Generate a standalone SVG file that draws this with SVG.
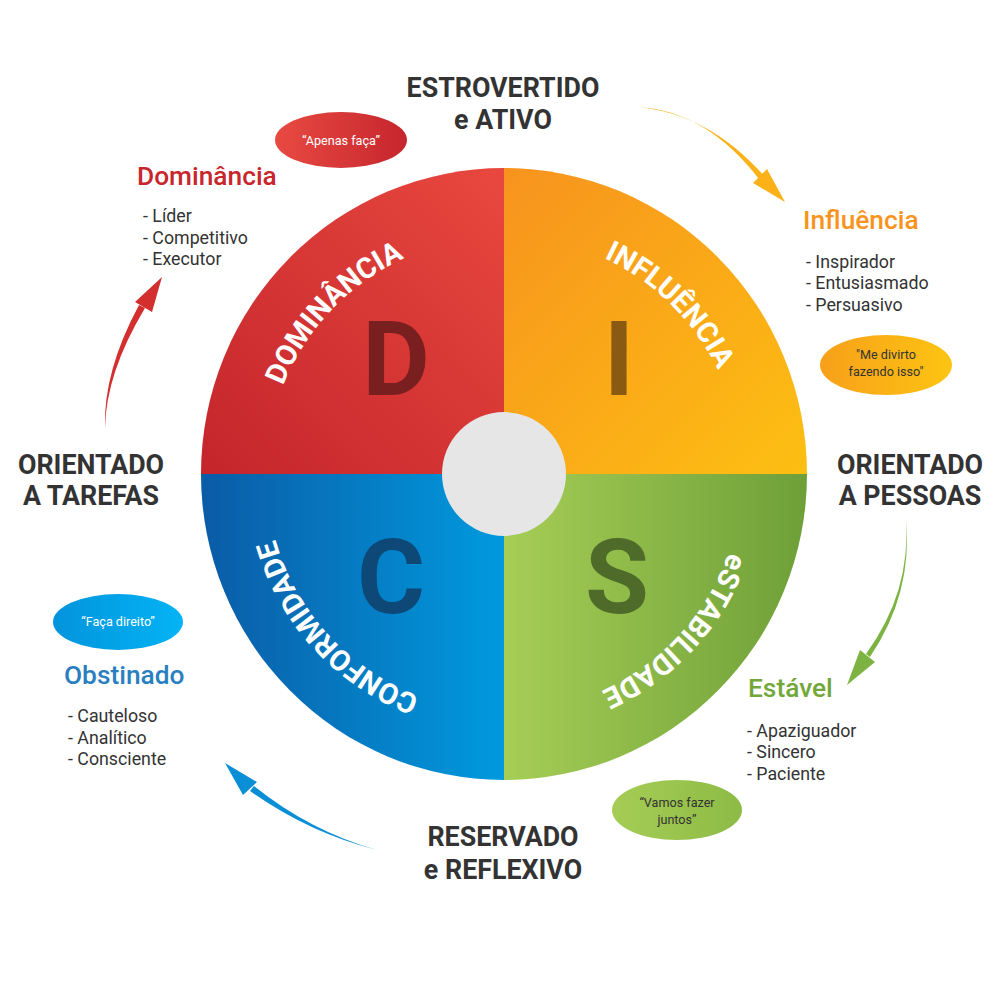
<svg xmlns="http://www.w3.org/2000/svg" xmlns:xlink="http://www.w3.org/1999/xlink" width="1000" height="1000" viewBox="0 0 1000 1000">
<defs>
<linearGradient id="gRed" x1="0" y1="1" x2="1" y2="0"><stop offset="0" stop-color="#c4252b"/><stop offset="1" stop-color="#e8483e"/></linearGradient>
<linearGradient id="gOrange" x1="0" y1="0" x2="1" y2="1"><stop offset="0" stop-color="#f7931e"/><stop offset="1" stop-color="#fdbf12"/></linearGradient>
<linearGradient id="gGreen" x1="0" y1="0" x2="1" y2="0"><stop offset="0" stop-color="#a6ce56"/><stop offset="1" stop-color="#6e9f38"/></linearGradient>
<linearGradient id="gBlue" x1="0" y1="0" x2="1" y2="0"><stop offset="0" stop-color="#0b5ba6"/><stop offset="1" stop-color="#009ade"/></linearGradient>
<linearGradient id="bRed" x1="0" y1="0" x2="1" y2="0"><stop offset="0" stop-color="#e84a42"/><stop offset="1" stop-color="#c6262d"/></linearGradient>
<linearGradient id="bOrange" x1="0" y1="0" x2="1" y2="0"><stop offset="0" stop-color="#f7a01a"/><stop offset="1" stop-color="#fdc412"/></linearGradient>
<linearGradient id="bGreen" x1="0" y1="0" x2="1" y2="0"><stop offset="0" stop-color="#a5cd55"/><stop offset="1" stop-color="#8dbb46"/></linearGradient>
<linearGradient id="bBlue" x1="0" y1="0" x2="1" y2="0"><stop offset="0" stop-color="#0294dc"/><stop offset="1" stop-color="#04b3f5"/></linearGradient>
<path id="arc" d="M280.4,392.6 A238,238 0 0 1 727.6,392.6"/>
<style>
text{font-family:Roboto,"Liberation Sans",sans-serif;}
.head{font-size:26.8px;font-weight:700;fill:#333;text-anchor:middle;}
.title{font-size:26.3px;font-weight:500;}
.item{font-size:17.8px;fill:#333;}
.arcT{font-size:29px;font-weight:700;fill:#fff;}
.big{font-size:104px;font-weight:700;text-anchor:middle;}
.bub{font-size:12.6px;text-anchor:middle;}
</style>
</defs>

<g id="wheel">
<path d="M504,474 L201,474 A303,306 0 0 1 504,168 Z" fill="url(#gRed)"/>
<path d="M504,474 L504,168 A303,306 0 0 1 807,474 Z" fill="url(#gOrange)"/>
<path d="M504,474 L807,474 A303,306 0 0 1 504,780 Z" fill="url(#gGreen)"/>
<path d="M504,474 L504,780 A303,306 0 0 1 201,474 Z" fill="url(#gBlue)"/>
<circle cx="504" cy="474" r="62" fill="#e6e6e6"/>
</g>

<g id="node-d">
<text class="big" x="396" y="395" fill="#7a1f1f">D</text>
<g transform="rotate(-46.5 504 474)"><text class="arcT"><textPath xlink:href="#arc" href="#arc" startOffset="50%" text-anchor="middle">DOMINÂNCIA</textPath></text></g>
</g>
<g id="node-i">
<text class="big" x="619" y="395" fill="#8a5a12">I</text>
<g transform="rotate(44.5 504 474)"><text class="arcT"><textPath xlink:href="#arc" href="#arc" startOffset="50%" text-anchor="middle">INFLUÊNCIA</textPath></text></g>
</g>
<g id="node-s">
<text class="big" x="617" y="613" fill="#4f6b2a">S</text>
<g transform="rotate(132.5 504 474)"><text class="arcT"><textPath xlink:href="#arc" href="#arc" startOffset="50%" text-anchor="middle">eSTABILIDADE</textPath></text></g>
</g>
<g id="node-c">
<text class="big" x="391" y="613" fill="#0d4877">C</text>
<g transform="rotate(227.4 504 474)"><text class="arcT"><textPath xlink:href="#arc" href="#arc" startOffset="50%" text-anchor="middle">CONFORMIDADE</textPath></text></g>
</g>

<g id="axis-labels">
<text class="head" x="503" y="97">ESTROVERTIDO</text>
<text class="head" x="503" y="129">e ATIVO</text>
<text class="head" x="91" y="474">ORIENTADO</text>
<text class="head" x="91" y="505">A TAREFAS</text>
<text class="head" x="910" y="474">ORIENTADO</text>
<text class="head" x="910" y="505">A PESSOAS</text>
<text class="head" x="503" y="846">RESERVADO</text>
<text class="head" x="503" y="879">e REFLEXIVO</text>
</g>

<g id="desc-dominancia">
<text class="title" x="137" y="185" fill="#c8262c">Dominância</text>
<text class="item" x="143" y="222">- Líder</text>
<text class="item" x="143" y="244">- Competitivo</text>
<text class="item" x="143" y="265">- Executor</text>
</g>
<g id="desc-influencia">
<text class="title" x="803" y="229" fill="#f7941d">Influência</text>
<text class="item" x="806" y="268">- Inspirador</text>
<text class="item" x="806" y="289">- Entusiasmado</text>
<text class="item" x="806" y="311">- Persuasivo</text>
</g>
<g id="desc-estavel">
<text class="title" x="748" y="697" fill="#72a83a">Estável</text>
<text class="item" x="747" y="737">- Apaziguador</text>
<text class="item" x="747" y="758">- Sincero</text>
<text class="item" x="747" y="780">- Paciente</text>
</g>
<g id="desc-obstinado">
<text class="title" x="64" y="684" fill="#2a7fc0">Obstinado</text>
<text class="item" x="68" y="722">- Cauteloso</text>
<text class="item" x="68" y="744">- Analítico</text>
<text class="item" x="68" y="765">- Consciente</text>
</g>

<g id="bubble-d">
<ellipse cx="341" cy="140" rx="66" ry="28" fill="url(#bRed)"/>
<text class="bub" x="341" y="145" fill="#fff">“Apenas faça”</text>
</g>
<g id="bubble-i">
<ellipse cx="886" cy="365" rx="66" ry="30" fill="url(#bOrange)"/>
<text class="bub" x="886" y="359" fill="#333">"Me divirto</text>
<text class="bub" x="886" y="376" fill="#333">fazendo isso"</text>
</g>
<g id="bubble-s">
<ellipse cx="677" cy="810" rx="65" ry="30" fill="url(#bGreen)"/>
<text class="bub" x="677" y="807" fill="#333">“Vamos fazer</text>
<text class="bub" x="677" y="824" fill="#333">juntos”</text>
</g>
<g id="bubble-c">
<ellipse cx="118" cy="622" rx="65" ry="28" fill="url(#bBlue)"/>
<text class="bub" x="118" y="626" fill="#fff">“Faça direito”</text>
</g>

<g id="connectors">
<path d="M637,107 Q706,110 759.7,179.9 L764.3,176.1 Q708,113 637,107 Z" fill="#fbb117"/>
<polygon points="785,202 753,183 767,169" fill="#fbb117"/>
<path d="M906,520 Q911,592 866,654 L870,657 Q913,593 906,520 Z" fill="#7cb342"/>
<polygon points="847,685 860,650 875,662" fill="#7cb342"/>
<path d="M377,850 Q309,833 250,791 L254,786 Q310,831 377,850 Z" fill="#0a8fd6"/>
<polygon points="225,763 257,782 243,795" fill="#0a8fd6"/>
<path d="M105,428 Q103,372 139,305 L145,308 Q106,373 105,428 Z" fill="#d32f2f"/>
<polygon points="162,277 135,302 152,312" fill="#d32f2f"/>
</g>
</svg>
